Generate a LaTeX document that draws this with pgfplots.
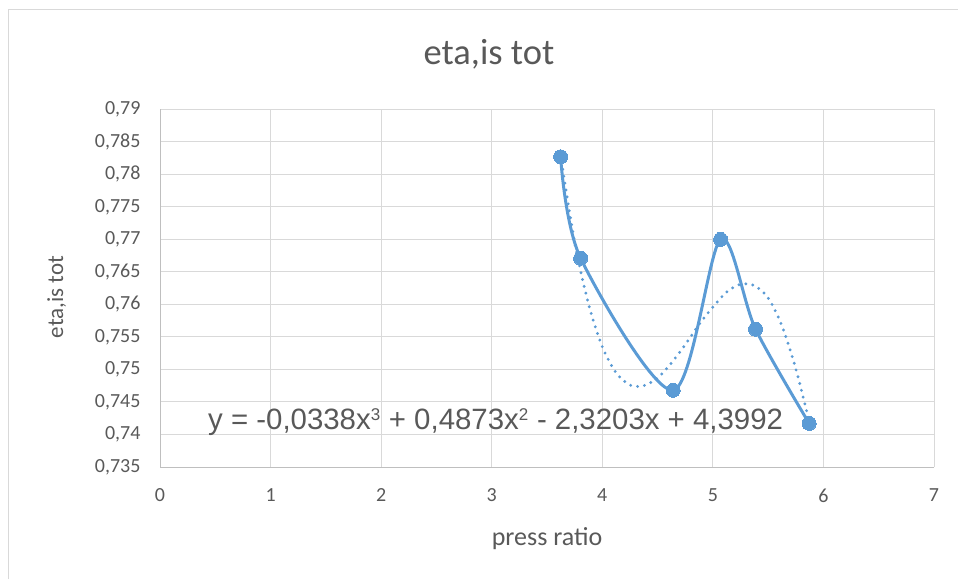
\documentclass[border=0pt]{standalone}
\usepackage{fontspec}
\setmainfont{Carlito}
\newfontfamily\arialf{Liberation Sans}
\usepackage{pgfplots}
\pgfplotsset{compat=1.18}
\definecolor{ser}{HTML}{5B9BD5}
\definecolor{gridc}{HTML}{D9D9D9}
\definecolor{axc}{HTML}{BFBFBF}
\definecolor{txt}{HTML}{595959}
\begin{document}
\begin{tikzpicture}[x=1pt,y=1pt]
\useasboundingbox (0,0) rectangle (958,579);
\draw[gridc, line width=1.5pt] (8.5,0) -- (8.5,569.5) -- (958,569.5);
\node[anchor=base, text=txt, font=\fontsize{36.5}{36.5}\selectfont] at (489,514) {eta,is tot};
\node[anchor=base, text=txt, font=\fontsize{26}{26}\selectfont] at (547,34) {press ratio};
\node[anchor=base, rotate=90, text=txt, font=\fontsize{23}{23}\selectfont] at (63,282) {eta,is tot};
\begin{axis}[
  at={(160pt,112pt)}, anchor=south west,
  scale only axis, width=774pt, height=357.7pt,
  xmin=0, xmax=7, ymin=0.735, ymax=0.79,
  xtick={0,1,2,3,4,5,6,7},
  ytick={0.735,0.74,0.745,0.75,0.755,0.76,0.765,0.77,0.775,0.78,0.785,0.79},
  grid=major, major grid style={gridc, line width=1pt},
  axis x line*=bottom, axis y line*=left,
  axis line style={axc, line width=1pt},
  major tick length=0pt,
  tick label style={text=txt, font=\fontsize{20}{20}\selectfont},
  xticklabel style={anchor=north, yshift=-18pt},
  yticklabel style={anchor=east, xshift=-16pt},
  /pgf/number format/.cd, fixed, precision=3, use comma, assume math mode=true,
]
\addplot[ser, line width=3pt, smooth, tension=0.5, mark=*, mark size=7pt, mark options={fill=ser, draw=ser, line width=0pt}] coordinates {
(3.623,0.7827) (3.804,0.7671) (4.641,0.7468) (5.070,0.7700) (5.386,0.7562) (5.871,0.7417)
};
\addplot[ser, line width=3.2pt, line cap=round, dash pattern=on 0pt off 7pt, smooth] coordinates {
(3.623,0.7829) (3.75,0.7696) (3.875,0.7601) (4.0,0.7535) (4.125,0.7495) (4.25,0.7476) (4.375,0.7475) (4.5,0.7487) (4.625,0.7510) (4.75,0.7538) (4.875,0.7569) (5.0,0.7596) (5.125,0.7619) (5.25,0.7631) (5.375,0.7629) (5.5,0.7610) (5.625,0.7567) (5.75,0.7501) (5.871,0.7420)
};
\node[anchor=base west, text=txt, font=\arialf\fontsize{29.4}{29.4}\selectfont, inner sep=0pt] at (axis cs:0.434,0.7407) {y = -0,0338x\textsuperscript{\fontsize{17}{17}\selectfont 3} + 0,4873x\textsuperscript{\fontsize{17}{17}\selectfont 2} - 2,3203x + 4,3992};
\end{axis}
\end{tikzpicture}
\end{document}
